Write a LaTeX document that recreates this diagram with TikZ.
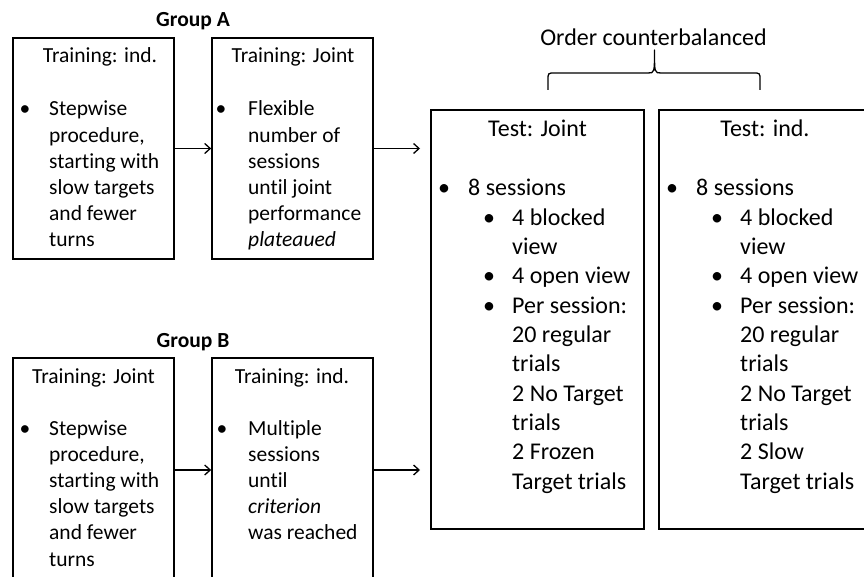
\documentclass[tikz,border=0pt]{standalone}
\usepackage{fontspec}
\setmainfont{Carlito}[RawFeature={-liga;-clig}]
\usetikzlibrary{arrows.meta}
\begin{document}
\begin{tikzpicture}[x=1pt,y=-1pt,
  box/.style={draw=black,line width=1.7pt,rectangle,inner sep=0pt},
  small/.style={inner sep=0pt,font=\fontsize{21.5}{26}\selectfont},
  big/.style={inner sep=0pt,font=\fontsize{24}{29}\selectfont},
  lt/.style={small,anchor=base west},
  lc/.style={small,anchor=base},
  bt/.style={big,anchor=base west},
  bc/.style={big,anchor=base},
  grp/.style={inner sep=0pt,anchor=base,font=\fontsize{21.5}{26}\selectfont\bfseries},
  conn/.style={line width=1.3pt,-{Straight Barb[length=5.5pt,width=10pt]}},
  brace/.style={line width=1.3pt}]
\useasboundingbox (0,0) rectangle (864,577);
\clip (0,0) rectangle (864,577);
\fill[white] (0,0) rectangle (864,577);

% group labels
\node[grp] (gA) at (193,27) {Group A};
\node[grp] (gB) at (193,347) {Group B};

% boxes
\node[box,minimum width=161pt,minimum height=221pt] (A1) at (93.5,148.5) {};
\node[box,minimum width=161pt,minimum height=221pt] (A2) at (292.5,148.5) {};
\node[box,minimum width=161pt,minimum height=224pt] (B1) at (93.5,470) {};
\node[box,minimum width=161pt,minimum height=224pt] (B2) at (292.5,470) {};
\node[box,minimum width=213pt,minimum height=419pt] (TJ) at (537.5,319.5) {};
\node[box,minimum width=213pt,minimum height=419pt] (TI) at (765.5,319.5) {};

% titles
\node[lc] (A1h) at (100,63) {Training: ind.};
\node[lc] (A2h) at (293,63) {Training: Joint};
\node[lc] (B1h) at (93.5,383) {Training: Joint};
\node[lc] (B2h) at (292,383) {Training: ind.};
\node[bc] (TJh) at (537.5,137) {Test: Joint};
\node[bc] (TIh) at (765,137) {Test: ind.};

% Group A texts
\node[lc] (A1b) at (25,116) {•};
\foreach \t [count=\i] in {Stepwise,{procedure,},starting with,slow targets,and fewer,turns}
  \node[lt] (A1t\i) at (49,{116+26.2*(\i-1)}) {\t};
\node[lc] (A2b) at (221,116) {•};
\foreach \t [count=\i] in {Flexible,number of,sessions,until joint,performance,\textit{plateaued}}
  \node[lt] (A2t\i) at (248,{116+26.2*(\i-1)}) {\t};

% Group B texts
\node[lc] (B1b) at (25,435) {•};
\foreach \t [count=\i] in {Stepwise,{procedure,},starting with,slow targets,and fewer,turns}
  \node[lt] (B1t\i) at (49,{435+26.2*(\i-1)}) {\t};
\node[lc] (B2b) at (222,435) {•};
\foreach \t [count=\i] in {Multiple,sessions,until,\textit{criterion},was reached}
  \node[lt] (B2t\i) at (248,{435+26.2*(\i-1)}) {\t};

% Test: Joint
\node[bc] (TJb0) at (444,196) {•};
\foreach \r in {1,3,4}
  \node[bc] (TJb\r) at (489,{196+29.3*\r}) {•};
\node[bt] (TJt0) at (468,196) {8 sessions};
\foreach \t [count=\i] in {4 blocked,view,4 open view,Per session:,20 regular,trials,2 No Target,trials,2 Frozen,Target trials}
  \node[bt] (TJt\i) at (512,{196+29.3*\i}) {\t};

% Test: ind.
\node[bc] (TIb0) at (672,196) {•};
\foreach \r in {1,3,4}
  \node[bc] (TIb\r) at (717,{196+29.3*\r}) {•};
\node[bt] (TIt0) at (696,196) {8 sessions};
\foreach \t [count=\i] in {4 blocked,view,4 open view,Per session:,20 regular,trials,2 No Target,trials,2 Slow,Target trials}
  \node[bt] (TIt\i) at (740,{196+29.3*\i}) {\t};

% connectors
\coordinate (endA) at (420,148.5);
\coordinate (endB) at (420,470);
\draw[conn] (A1) -- (A2);
\draw[conn] (A2) -- (endA);
\draw[conn] (B1) -- (B2);
\draw[conn] (B2) -- (endB);

% brace and label
\node[bc] (order) at (653.5,46) {Order counterbalanced};
\coordinate (brL) at (548,90);
\coordinate (brR) at (760,90);
\coordinate (brT) at (654.5,50);
\draw[brace,line join=round] (brL) -- (548,80) .. controls (548,73) .. (555,73) -- (648,73)
  .. controls (654.5,73) .. (brT) .. controls (654.5,73) .. (661,73) -- (753,73)
  .. controls (760,73) .. (760,80) -- (brR);
\end{tikzpicture}
\end{document}
